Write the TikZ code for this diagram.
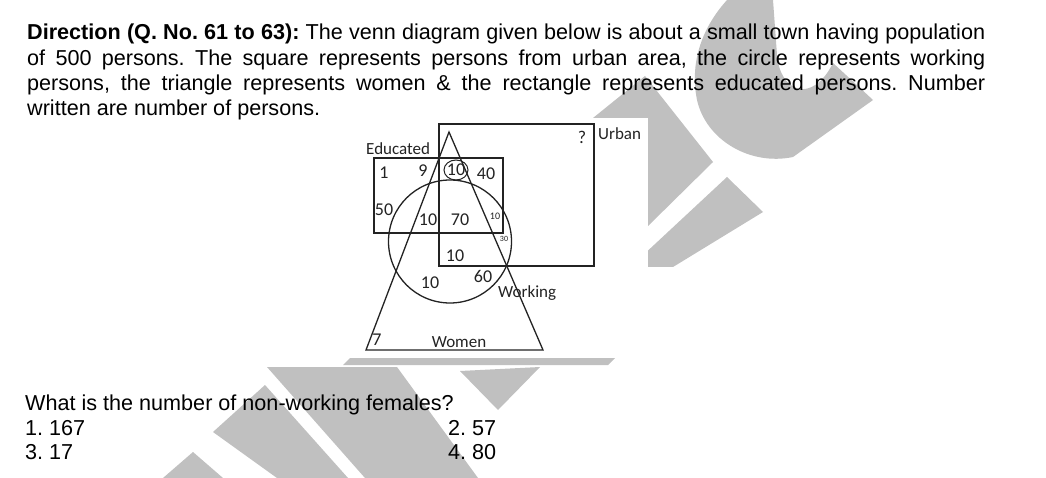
\documentclass[tikz,border=0pt]{standalone}
\usepackage{fontspec}
\setmainfont{Liberation Sans}
\newfontfamily\scanfont{Carlito}
\definecolor{wmgray}{RGB}{192,192,192}
\definecolor{ink}{RGB}{35,35,35}
\frenchspacing
\begin{document}
\begin{tikzpicture}[x=1pt,y=-1pt,
  wm/.style={fill=wmgray, draw=none},
  ln/.style={draw=ink, line width=1.3pt},
  lbl/.style={font=\scanfont\fontsize{17}{17}\selectfont, text=ink, inner sep=0},
  num/.style={font=\scanfont\fontsize{18}{18}\selectfont, text=ink, inner sep=0},
  txt/.style={font=\fontsize{21.6}{25.3}\selectfont, inner sep=0, anchor=base west}]
\useasboundingbox (0,0) rectangle (1046,478);
\fill[white] (0,0) rectangle (1046,478);
% watermark
\fill[wm] (727,0) -- (773,0) -- (777,55) .. controls (780,92) and (812,105) .. (833,63)
  -- (873,100) -- (793,157) .. controls (750,166) and (706,140) .. (697,100)
  .. controls (690,65) and (700,30) .. cycle;
\fill[wm] (593,118) -- (645,76) -- (713,162) -- (648,226) -- (640,226) -- (640,118) -- cycle;
\fill[wm] (727,177) -- (763,212) -- (673,267) -- (640,267) -- (640,258) -- cycle;
\fill[wm] (163,478) -- (193,452) -- (223,478) -- cycle;
\fill[wm] (213,432) -- (265,385) -- (348,478) -- (277,478) -- cycle;
\fill[wm] (267,367) -- (397,367) -- (478,478) -- (365,478) -- cycle;
\fill[wm] (460,371) -- (540,367) -- (498,410) -- cycle;
\fill[wm] (343,365) -- (350,358) -- (615,358) -- (608,365) -- cycle;
% scanned figure area
\fill[white] (357,118) rectangle (648,358);
% venn diagram
\draw[ln] (439,124) rectangle (594,266);
\draw[ln] (374,158) rectangle (503,233);
\draw[ln] (449,132) -- (366,350) -- (543,350) -- cycle;
\draw[ln] (450,241.5) circle [radius=61.5];
\draw[ink, line width=1pt] (456,170) ellipse [x radius=12, y radius=10];
\node[num] (q) at (582,137) {?};
\node[lbl, anchor=west] (urban) at (598,134) {Urban};
\node[lbl, anchor=west] (educated) at (366,149) {Educated};
\node[num] (n1) at (384,173) {1};
\node[num] (n9) at (423,171) {9};
\node[num] (n10a) at (456,170) {10};
\node[num] (n40) at (486,174) {40};
\node[num] (n50) at (384,210) {50};
\node[num] (n10b) at (428,220) {10};
\node[num] (n70) at (460,220) {70};
\node[num, font=\scanfont\fontsize{10}{10}\selectfont] (n10c) at (495,216) {10};
\node[num, font=\scanfont\fontsize{8}{8}\selectfont] (n30) at (504,239) {30};
\node[num] (n10d) at (455,256) {10};
\node[num] (n60) at (483,276) {60};
\node[num] (n10e) at (430,283) {10};
\node[lbl, anchor=west] (working) at (498,293) {Working};
\node[num] (n7) at (377,340) {7};
\node[lbl] (women) at (459,342) {Women};
% text
\node[txt] (l1) at (27,40) {\makebox[958pt][s]{\textbf{Direction (Q. No. 61 to 63):} The venn diagram given below is about a small town having population}};
\node[txt] (l2) at (27,65.3) {\makebox[958pt][s]{of 500 persons. The square represents persons from urban area, the circle represents working}};
\node[txt] (l3) at (27,90.6) {\makebox[958pt][s]{persons, the triangle represents women \& the rectangle represents educated persons. Number}};
\node[txt] (l4) at (27,116) {written are number of persons.};
\node[txt] (qq) at (25,410) {What is the number of non-working females?};
\node[txt] (o1) at (25,435) {1. 167};
\node[txt] (o2) at (448,435) {2. 57};
\node[txt] (o3) at (25,459) {3. 17};
\node[txt] (o4) at (448,459) {4. 80};
\end{tikzpicture}
\end{document}
